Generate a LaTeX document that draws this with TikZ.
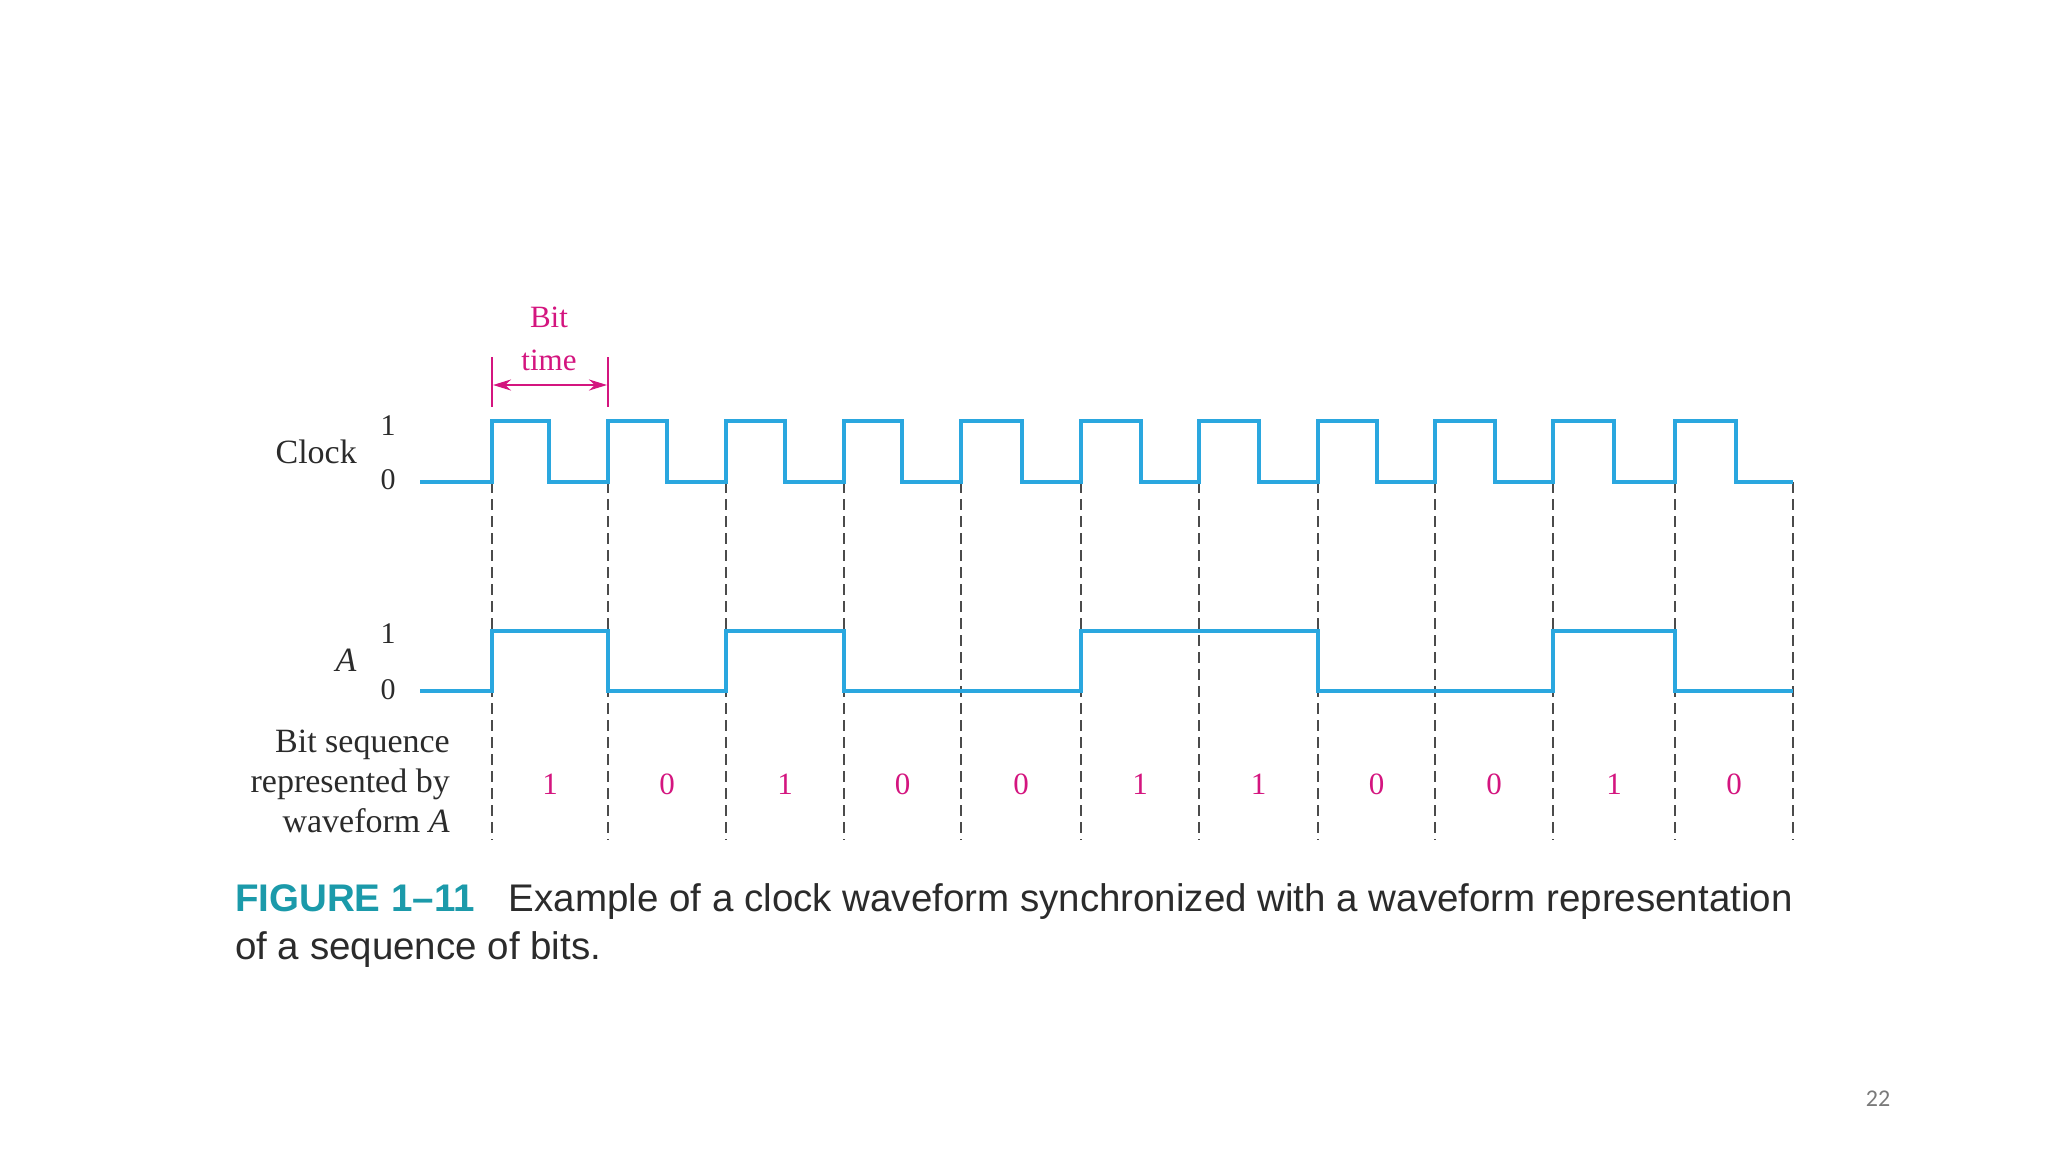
\documentclass[tikz,border=0pt]{standalone}
\usepackage{fontspec}
\setmainfont{Liberation Serif}
\newfontfamily\capfont{Liberation Sans}
\newfontfamily\pgfont{Carlito}
\usetikzlibrary{arrows.meta}
\definecolor{wavecol}{HTML}{2AA7DF}
\definecolor{magcol}{HTML}{D4157F}
\definecolor{tealcol}{HTML}{1B9AAA}
\definecolor{txtcol}{HTML}{2B2B2B}
\definecolor{pgcol}{HTML}{7A7A7A}
\begin{document}
\begin{tikzpicture}[x=1pt,y=-1pt,
  wave/.style={draw=wavecol,line width=4pt,line join=miter},
  guide/.style={draw=txtcol!85,line width=2.4pt,dash pattern=on 11pt off 6pt},
  lbl/.style={text=txtcol,inner sep=0pt,font=\fontsize{34}{40}\selectfont},
  lvl/.style={text=txtcol,inner sep=0pt,font=\fontsize{30}{36}\selectfont},
  bitval/.style={text=magcol,inner sep=0pt,font=\fontsize{31}{36}\selectfont},
  bar/.style={draw=magcol,line width=2pt}]
\useasboundingbox[fill=white] (0,0) rectangle (2048,1152);

% edge coordinates
\foreach \x [count=\i from 0] in {492,608,726,844,961,1081,1199,1318,1435,1553,1675,1793}{
  \coordinate (t\i) at (\x,482);
  \coordinate (b\i) at (\x,840);
}

% dashed guide lines
\foreach \i in {0,...,11}{
  \draw[guide] (t\i) -- (b\i);
}

% clock waveform
\draw[wave] (420,482)
  foreach \r/\f in {492/549,608/667,726/785,844/902,961/1022,1081/1141,1199/1259,1318/1377,1435/1495,1553/1614,1675/1736}{
   -- (\r,482) -- (\r,421) -- (\f,421) -- (\f,482) } -- (1793,482);

% waveform A
\draw[wave] (420,691) -- (492,691) -- (492,631) -- (608,631) -- (608,691)
  -- (726,691) -- (726,631) -- (844,631) -- (844,691) -- (1081,691)
  -- (1081,631) -- (1318,631) -- (1318,691) -- (1553,691) -- (1553,631)
  -- (1675,631) -- (1675,691) -- (1793,691);

% bit values
\foreach \v [count=\i from 0] in {1,0,1,0,0,1,1,0,0,1,0}{
  \pgfmathtruncatemacro{\j}{\i+1}
  \path (t\i) -- (t\j) coordinate[pos=0.5] (m\i);
  \node[bitval] (v\i) at ([yshift=-302pt]m\i) {\v};
}

% bit time marker
\coordinate (bta) at (492,357);
\coordinate (btb) at (492,407);
\coordinate (btc) at (608,357);
\coordinate (btd) at (608,407);
\draw[bar] (bta) -- (btb);
\draw[bar] (btc) -- (btd);
\coordinate (arl) at (493,385);
\coordinate (arr) at (607,385);
\draw[draw=magcol,line width=2.4pt,{Stealth[length=18pt,width=11pt]}-{Stealth[length=18pt,width=11pt]}] (arl) -- (arr);
\node[bitval] (bit) at (549,317) {Bit};
\node[bitval] (time) at (549,360) {time};

% labels
\node[lbl,anchor=east] (clk) at (357,452) {Clock};
\node[lvl] (c1) at (388,426) {1};
\node[lvl] (c0) at (388,480) {0};
\node[lbl,font=\fontsize{34}{40}\selectfont\itshape] (alab) at (346,660) {A};
\node[lvl] (a1) at (388,634) {1};
\node[lvl] (a0) at (388,690) {0};
\node[lbl,anchor=east,align=right] (seq) at (450,781) {Bit sequence\\represented by\\waveform \textit{A}};

% caption
\node[anchor=base west,inner sep=0pt,text=txtcol,font=\capfont\fontsize{38.5}{48}\selectfont] (cap1) at (235,911)
  {{\color{tealcol}\bfseries FIGURE 1–11}\hspace{34pt}Example of a clock waveform synchronized with a waveform representation};
\node[anchor=base west,inner sep=0pt,text=txtcol,font=\capfont\fontsize{38.5}{48}\selectfont] (cap2) at (235,959)
  {of a sequence of bits.};

% page number
\node[text=pgcol,inner sep=0pt,font=\pgfont\fontsize{24}{28}\selectfont] (pg) at (1878,1099) {22};
\end{tikzpicture}
\end{document}
